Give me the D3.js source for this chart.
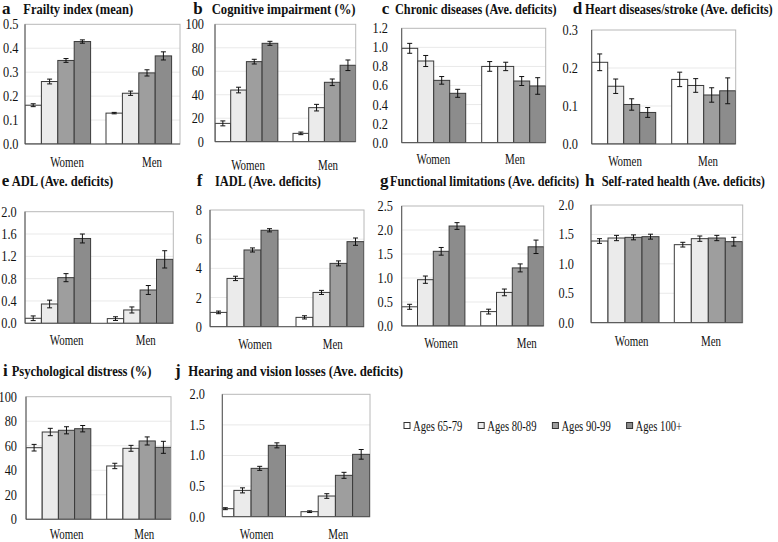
<!DOCTYPE html>
<html><head><meta charset="utf-8">
<script src="https://cdn.jsdelivr.net/npm/d3@7"></script>
<style>body{margin:0;background:#fff}svg{display:block}</style>
</head><body>
<svg id="chart" width="778" height="542"></svg>
<script>
// ---------- DATA ----------
const groups = ["Women", "Men"];
const ageGroups = ["Ages 65-79", "Ages 80-89", "Ages 90-99", "Ages 100+"];
const letters = ["a","b","c","d","e","f","g","h","i","j"];
const titles = [
  "Frailty index (mean)",
  "Cognitive impairment (%)",
  "Chronic diseases (Ave. deficits)",
  "Heart diseases/stroke (Ave. deficits)",
  "ADL (Ave. deficits)",
  "IADL (Ave. deficits)",
  "Functional limitations (Ave. deficits)",
  "Self-rated health (Ave. deficits)",
  "Psychological distress (%)",
  "Hearing and vision losses (Ave. deficits)"
];
// [Women x 4 ages], [Men x 4 ages]
const frailtyMean = [[0.162, 0.261, 0.349, 0.428], [0.129, 0.212, 0.297, 0.368]];
const frailtyErr  = [[0.006, 0.010, 0.008, 0.007], [0.003, 0.009, 0.013, 0.017]];
const cognitiveMean = [[15.6, 44.0, 68.2, 83.8], [7.1, 29.0, 50.6, 65.1]];
const cognitiveErr  = [[2.1, 2.4, 2.0, 1.7], [1.1, 2.8, 2.8, 4.5]];
const chronicMean = [[0.99, 0.857, 0.654, 0.518], [0.80, 0.80, 0.647, 0.595]];
const chronicErr  = [[0.052, 0.058, 0.040, 0.042], [0.051, 0.044, 0.047, 0.087]];
const heartMean = [[0.215, 0.152, 0.104, 0.083], [0.170, 0.154, 0.129, 0.140]];
const heartErr  = [[0.022, 0.019, 0.015, 0.013], [0.019, 0.018, 0.019, 0.034]];
const adlMean = [[0.09, 0.346, 0.818, 1.52], [0.084, 0.239, 0.597, 1.146]];
const adlErr  = [[0.042, 0.069, 0.072, 0.080], [0.033, 0.054, 0.080, 0.155]];
const iadlMean = [[0.98, 3.31, 5.26, 6.61], [0.64, 2.35, 4.34, 5.83]];
const iadlErr  = [[0.09, 0.15, 0.14, 0.11], [0.11, 0.14, 0.17, 0.25]];
const functionalMean = [[0.40, 0.965, 1.556, 2.083], [0.30, 0.70, 1.21, 1.65]];
const functionalErr  = [[0.052, 0.076, 0.080, 0.070], [0.050, 0.070, 0.083, 0.140]];
const selfRatedMean = [[1.388, 1.439, 1.450, 1.462], [1.326, 1.428, 1.439, 1.377]];
const selfRatedErr  = [[0.040, 0.045, 0.042, 0.042], [0.040, 0.045, 0.045, 0.074]];
const distressMean = [[58.4, 71.2, 72.6, 73.9], [43.5, 57.9, 63.9, 58.7]];
const distressErr  = [[2.7, 3.0, 2.9, 2.6], [2.2, 2.4, 3.3, 4.9]];
const sensoryMean = [[0.131, 0.43, 0.79, 1.166], [0.082, 0.338, 0.676, 1.019]];
const sensoryErr  = [[0.016, 0.041, 0.033, 0.041], [0.014, 0.038, 0.049, 0.079]];

const ticksA = [0, 0.1, 0.2, 0.3, 0.4, 0.5];
const ticksB = [0, 20, 40, 60, 80, 100];
const ticksC = [0, 0.2, 0.4, 0.6, 0.8, 1.0, 1.2];
const ticksD = [0, 0.1, 0.2, 0.3];
const ticksE = [0, 0.4, 0.8, 1.2, 1.6, 2.0];
const ticksF = [0, 2, 4, 6, 8];
const ticksG = [0, 0.5, 1.0, 1.5, 2.0, 2.5];
const ticksH = [0, 0.5, 1.0, 1.5, 2.0];
const ticksI = [0, 20, 40, 60, 80, 100];
const ticksJ = [0, 0.5, 1.0, 1.5, 2.0];

const panelValues = [frailtyMean, cognitiveMean, chronicMean, heartMean, adlMean, iadlMean, functionalMean, selfRatedMean, distressMean, sensoryMean];
const panelErrors = [frailtyErr, cognitiveErr, chronicErr, heartErr, adlErr, iadlErr, functionalErr, selfRatedErr, distressErr, sensoryErr];
const panelTicks = [ticksA, ticksB, ticksC, ticksD, ticksE, ticksF, ticksG, ticksH, ticksI, ticksJ];
const panelFormats = [".1f", "d", ".1f", ".1f", ".1f", "d", ".1f", ".1f", "d", ".1f"];

// ---------- LAYOUT (positions only) ----------
const layout = [
  {x0:25,    x1:180,   yT:24.3,  yB:144,   wS:25,    mS:106,   bw:16.4, tickR:18.5, lW:67,    lM:152,   lB:166.7, letX:2,     tX:23.3,  tEnd:133.3, tB:13.5},
  {x0:215,   x1:355.7, yT:24.3,  yB:141.7, wS:215,   mS:293,   bw:15.7, tickR:204,  lW:248,   lM:328,   lB:170,   letX:193.3, tX:211.7, tEnd:355.7, tB:13.5},
  {x0:401.7, x1:545.7, yT:28.3,  yB:142.7, wS:401.7, mS:481.7, bw:16,   tickR:388,  lW:433.3, lM:515,   lB:164,   letX:381.7, tX:395,   tEnd:556.7, tB:13.5},
  {x0:591.7, x1:735.7, yT:30,    yB:144,   wS:591.7, mS:671.7, bw:16,   tickR:578,  lW:625,   lM:708,   lB:166,   letX:572.7, tX:585,   tEnd:773,   tB:13.5},
  {x0:25,    x1:173.3, yT:211.7, yB:323.3, wS:25,    mS:107.3, bw:16.4, tickR:16.7, lW:66.7,  lM:145.7, lB:345,   letX:1.7,   tX:11.7,  tEnd:113.3, tB:185.5},
  {x0:210,   x1:364,   yT:210,   yB:326.7, wS:210,   mS:296,   bw:17,   tickR:202,  lW:255,   lM:332.7, lB:349,   letX:196.7, tX:215,   tEnd:321,   tB:185.5},
  {x0:401.7, x1:543.7, yT:206,   yB:326,   wS:401.7, mS:480.7, bw:15.8, tickR:393,  lW:441,   lM:526.7, lB:348.3, letX:380,   tX:390,   tEnd:579.3, tB:185.5},
  {x0:591,   x1:742.7, yT:205,   yB:322.7, wS:591,   mS:674.3, bw:17,   tickR:574,  lW:631.7, lM:711,   lB:345.7, letX:585,   tX:601.7, tEnd:765,   tB:185.5},
  {x0:26,    x1:171,   yT:396.7, yB:519.3, wS:26,    mS:106.7, bw:16.2, tickR:17,   lW:66.7,  lM:144.3, lB:539,   letX:3,     tX:11.7,  tEnd:151.7, tB:375.5},
  {x0:222.3, x1:370,   yT:394.3, yB:516.7, wS:216.7, mS:301,   bw:17.2, tickR:205,  lW:256.7, lM:338.3, lB:538.5, letX:175,   tX:188.3, tEnd:403.3, tB:375.5}
];
const legendLayout = {x:404, step:74.2, y:426, box:6, gap:9};

const barColors = ["#ffffff", "#ebebeb", "#9e9e9e", "#8c8c8c"];
const FONT = "'Liberation Serif', 'Times New Roman', serif";

// ---------- DRAW ----------
const svg = d3.select("#chart");
const color = d3.scaleOrdinal().domain(ageGroups).range(barColors);

panelValues.forEach((vals, i) => {
  const L = layout[i];
  const ticks = panelTicks[i];
  const errs = panelErrors[i];
  const g = svg.append("g");
  const y = d3.scaleLinear().domain([0, d3.max(ticks)]).range([L.yB, L.yT]);
  const gx = d3.scaleOrdinal().domain(groups).range([L.wS, L.mS]);
  const bx = d3.scaleBand().domain(ageGroups).range([0, 4 * L.bw]);

  const clipId = "clip" + i;
  svg.append("clipPath").attr("id", clipId).append("rect")
    .attr("x", L.x0).attr("y", L.yT - 20).attr("width", L.x1 - L.x0).attr("height", L.yB - L.yT + 20);

  // gridlines
  g.selectAll("line.grid").data(ticks.slice(1, -1)).join("line")
    .attr("x1", L.x0).attr("x2", L.x1)
    .attr("y1", d => y(d)).attr("y2", d => y(d))
    .attr("stroke", "#e9e9e9").attr("stroke-width", 1);

  // frame
  g.append("rect").attr("x", L.x0).attr("y", L.yT)
    .attr("width", L.x1 - L.x0).attr("height", L.yB - L.yT)
    .attr("fill", "none").attr("stroke", "#b8b8b8").attr("stroke-width", 1);

  const rows = [];
  groups.forEach((grp, gi) => ageGroups.forEach((age, ai) => {
    rows.push({grp, age, v: vals[gi][ai], e: errs[gi][ai]});
  }));

  const barsG = g.append("g").attr("clip-path", `url(#${clipId})`);
  barsG.selectAll("rect").data(rows).join("rect")
    .attr("x", d => gx(d.grp) + bx(d.age))
    .attr("y", d => y(d.v))
    .attr("width", bx.bandwidth())
    .attr("height", d => y(0) - y(d.v))
    .attr("fill", d => color(d.age))
    .attr("stroke", "#3a3a3a").attr("stroke-width", 1);

  // error bars
  const eg = barsG.append("g").attr("stroke", "#111").attr("stroke-width", 1);
  rows.forEach(d => {
    const cx = gx(d.grp) + bx(d.age) + bx.bandwidth() / 2;
    eg.append("line").attr("x1", cx).attr("x2", cx).attr("y1", y(d.v + d.e)).attr("y2", y(d.v - d.e));
    eg.append("line").attr("x1", cx - 2.5).attr("x2", cx + 2.5).attr("y1", y(d.v + d.e)).attr("y2", y(d.v + d.e));
    eg.append("line").attr("x1", cx - 2.5).attr("x2", cx + 2.5).attr("y1", y(d.v - d.e)).attr("y2", y(d.v - d.e));
  });

  // axis lines
  g.append("line").attr("x1", L.x0).attr("x2", L.x0).attr("y1", L.yT).attr("y2", L.yB)
    .attr("stroke", "#555").attr("stroke-width", 1);
  g.append("line").attr("x1", L.x0).attr("x2", L.x1).attr("y1", L.yB).attr("y2", L.yB)
    .attr("stroke", "#555").attr("stroke-width", 1);

  // y tick labels
  const ax = g.append("g").attr("transform", `translate(${L.tickR},0)`)
    .call(d3.axisLeft(y).tickValues(ticks).tickFormat(d3.format(panelFormats[i])).tickSize(0).tickPadding(0));
  ax.select(".domain").remove();
  ax.attr("font-family", FONT).attr("font-size", 14);
  ax.selectAll("text").attr("fill", "#111").attr("transform", "scale(0.88,1)");

  // category labels
  g.selectAll("text.cat").data(groups).join("text")
    .attr("class", "cat")
    .attr("transform", d => `translate(${d === "Women" ? L.lW : L.lM},${L.lB}) scale(0.78,1)`)
    .attr("text-anchor", "middle")
    .attr("font-family", FONT).attr("font-size", 14).attr("fill", "#111")
    .text(d => d);

  // titles
  g.append("text").attr("x", L.letX).attr("y", L.tB)
    .attr("font-family", FONT).attr("font-size", 17).attr("font-weight", "bold").attr("fill", "#111")
    .text(letters[i]);
  const t = g.append("text").attr("x", 0).attr("y", 0)
    .attr("font-family", FONT).attr("font-size", 14).attr("font-weight", "bold").attr("fill", "#111")
    .text(titles[i]);
  const natural = t.node().getComputedTextLength() || 1;
  t.attr("transform", `translate(${L.tX},${L.tB}) scale(${(L.tEnd - L.tX) / natural},1)`);
});

// legend
const lg = svg.append("g");
ageGroups.forEach((age, k) => {
  const x = legendLayout.x + k * legendLayout.step;
  lg.append("rect").attr("x", x).attr("y", legendLayout.y - legendLayout.box / 2 - 0.5)
    .attr("width", legendLayout.box).attr("height", legendLayout.box)
    .attr("fill", color(age)).attr("stroke", "#333").attr("stroke-width", 1);
  lg.append("text")
    .attr("transform", `translate(${x + legendLayout.gap},${legendLayout.y + 4.5}) scale(0.76,1)`)
    .attr("font-family", FONT).attr("font-size", 14).attr("fill", "#111")
    .text(age);
});
</script>
</body></html>
